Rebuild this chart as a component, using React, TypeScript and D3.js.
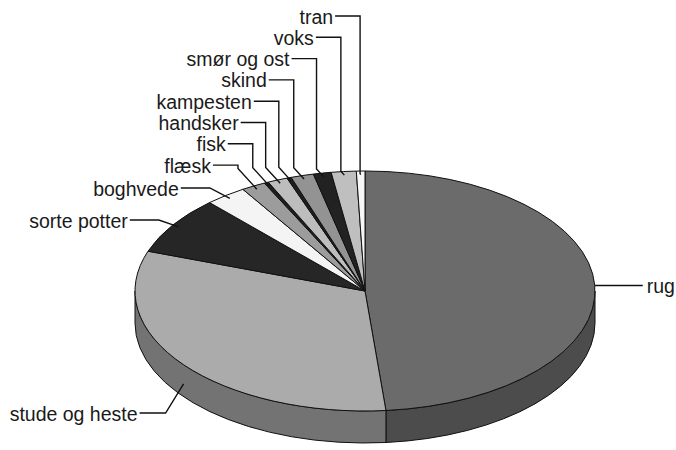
import React from "react";
import * as d3 from "d3";

// slices clockwise from 12 o'clock
const categories = [
  "rug",
  "stude og heste",
  "sorte potter",
  "boghvede",
  "flæsk",
  "fisk",
  "handsker",
  "kampesten",
  "skind",
  "smør og ost",
  "voks",
  "tran",
];
const shares = [48.5, 31.8, 7.8, 2.9, 1.7, 0.3, 1.4, 0.3, 1.6, 1.25, 1.75, 0.6];

const topColors = [
  "#6b6b6b", "#ababab", "#262626", "#f4f4f4", "#9c9c9c", "#1e1e1e",
  "#bdbdbd", "#1e1e1e", "#939393", "#222222", "#bfbfbf", "#f7f7f7",
];
const sideColors = [
  "#4c4c4c", "#737373", "#1a1a1a", "#cccccc", "#6e6e6e", "#141414",
  "#8a8a8a", "#141414", "#666666", "#181818", "#8c8c8c", "#d0d0d0",
];

// labels stacked above the pie, top to bottom
const stackOrder = ["tran", "voks", "smør og ost", "skind", "kampesten", "handsker", "fisk", "flæsk"];

const W = 676;
const H = 450;
const cx = 365;
const cy = 291;
const rx = 230;
const ry = 120;
const depth = 32;
const font = "'Liberation Sans', Arial, Helvetica, sans-serif";
const fontSize = 19.5;

const pt = (a: number, k = 1, dy = 0): [number, number] => [
  cx + rx * k * Math.sin(a),
  cy - ry * k * Math.cos(a) + dy,
];

const App: React.FC = () => {
  const pie = d3
    .pie<number>()
    .sort(null)
    .value((d) => d)
    .startAngle(0)
    .endAngle(2 * Math.PI);
  const arcs = pie(shares);

  const topPath = (a0: number, a1: number) => {
    const p = d3.path();
    const [x0, y0] = pt(a0);
    const [x1, y1] = pt(a1);
    p.moveTo(cx, cy);
    p.lineTo(x0, y0);
    const large = a1 - a0 > Math.PI ? 1 : 0;
    return `${p.toString()} A${rx},${ry} 0 ${large} 1 ${x1},${y1} Z`;
  };

  const sidePath = (a0: number, a1: number) => {
    const s = Math.max(a0, Math.PI / 2);
    const e = Math.min(a1, (3 * Math.PI) / 2);
    if (e <= s) return null;
    const [x0, y0] = pt(s);
    const [x1, y1] = pt(e);
    const large = e - s > Math.PI ? 1 : 0;
    return (
      `M${x0},${y0} A${rx},${ry} 0 ${large} 1 ${x1},${y1}` +
      ` L${x1},${y1 + depth} A${rx},${ry} 0 ${large} 0 ${x0},${y0 + depth} Z`
    );
  };

  // leader lines + labels
  const labels: { text: string; x: number; y: number; anchor: string; d: string }[] = [];
  arcs.forEach((a, i) => {
    const name = categories[i];
    const mid = (a.startAngle + a.endAngle) / 2;
    const deg = ((mid > Math.PI ? mid - 2 * Math.PI : mid) * 180) / Math.PI;
    const si = stackOrder.indexOf(name);
    if (si >= 0) {
      const ly = 16 + si * 21.3;
      const [ax, ay] = pt(mid, 0.97);
      const off = Math.abs(deg) * 0.65;
      const ex = ax - off;
      const ey = ay - off * 1.1;
      const tx = ex - 27;
      labels.push({
        text: name,
        x: tx,
        y: ly,
        anchor: "end",
        d: `M${tx + 2},${ly} L${ex},${ly} L${ex},${ey} L${ax},${ay}`,
      });
    } else if (name === "rug") {
      const [ax, ay] = pt(mid);
      labels.push({
        text: name,
        x: ax + 52,
        y: ay,
        anchor: "start",
        d: `M${ax},${ay} L${ax + 48},${ay}`,
      });
    } else if (name === "stude og heste") {
      const [ax, ay] = pt(mid, 1, depth * 0.6);
      const ly = 413;
      const ex = ax - 18;
      labels.push({
        text: name,
        x: ex - 28,
        y: ly,
        anchor: "end",
        d: `M${ex - 26},${ly} L${ex},${ly} L${ax},${ay}`,
      });
    } else {
      const ly = name === "boghvede" ? 188 : 220;
      const [ax, ay] = pt(mid, 0.97);
      const ex = ax - 20;
      labels.push({
        text: name,
        x: ex - 31,
        y: ly,
        anchor: "end",
        d: `M${ex - 29},${ly} L${ex},${ly} L${ax},${ay}`,
      });
    }
  });

  return (
    <svg
      width={W}
      height={H}
      style={{ position: "absolute", left: 0, top: 0, background: "#ffffff" }}
    >
      <g>
        {arcs.map((a, i) => {
          const d = sidePath(a.startAngle, a.endAngle);
          return d ? (
            <path key={`s${i}`} d={d} fill={sideColors[i]} stroke="#111" strokeWidth={1} />
          ) : null;
        })}
        {arcs.map((a, i) => (
          <path
            key={`t${i}`}
            d={topPath(a.startAngle, a.endAngle)}
            fill={topColors[i]}
            stroke="#111"
            strokeWidth={1}
            strokeLinejoin="round"
          />
        ))}
      </g>
      <g>
        {labels.map((l) => (
          <g key={l.text}>
            <path d={l.d} fill="none" stroke="#111" strokeWidth={1.4} />
            <text
              x={l.x}
              y={l.y + 7.5}
              textAnchor={l.anchor}
              fontFamily={font}
              fontSize={fontSize}
              fill="#1a1a1a"
            >
              {l.text}
            </text>
          </g>
        ))}
      </g>
    </svg>
  );
};

export default App;
